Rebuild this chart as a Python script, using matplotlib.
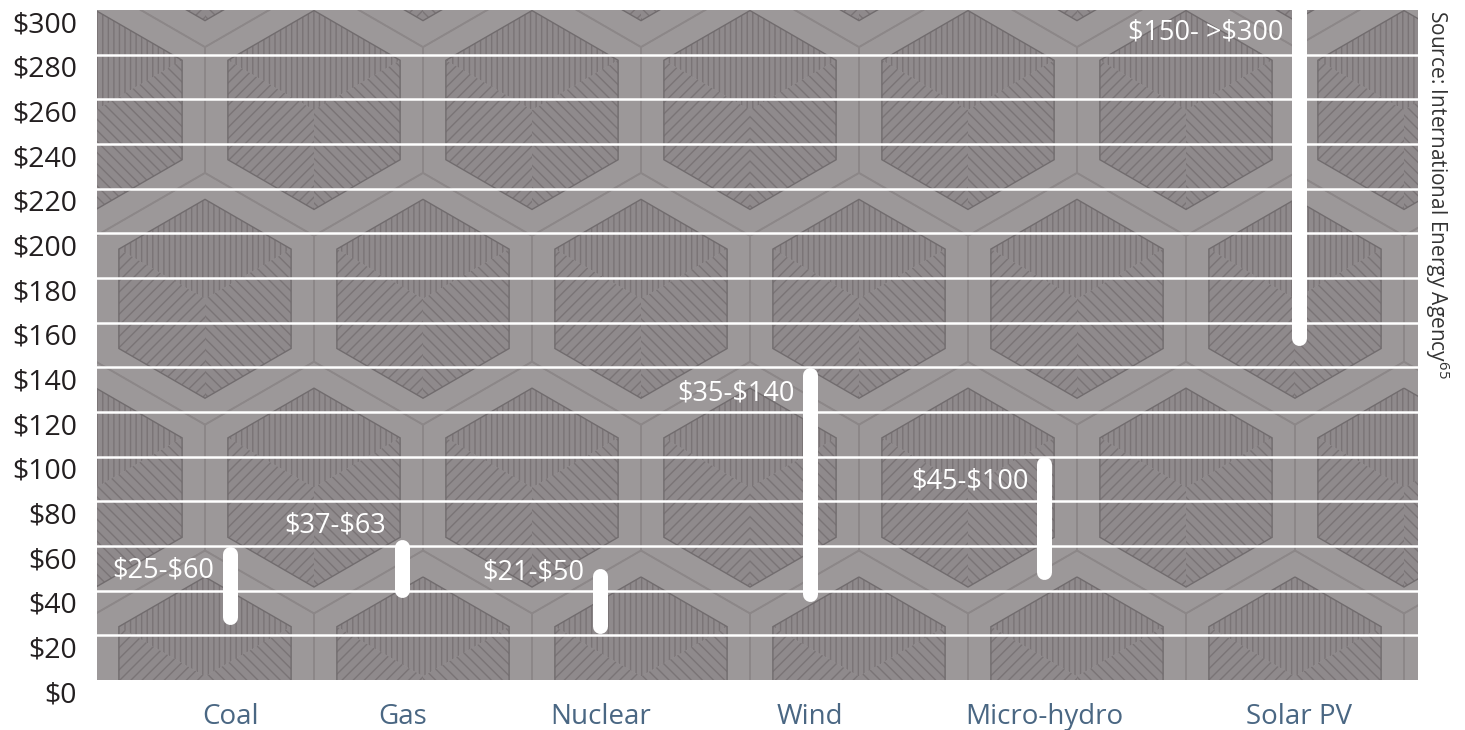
import numpy as np
import matplotlib
matplotlib.use('Agg')
import matplotlib.pyplot as plt
from matplotlib.patches import Polygon, Rectangle

plt.rcParams['font.family'] = ['Open Sans', 'DejaVu Sans']
plt.rcParams['mathtext.fontset'] = 'custom'
plt.rcParams['mathtext.rm'] = 'Open Sans'
plt.rcParams['mathtext.default'] = 'regular'
plt.rcParams['hatch.linewidth'] = 1.0

# levelised cost ranges, $ per MWh
sources = ['Coal', 'Gas', 'Nuclear', 'Wind', 'Micro-hydro', 'Solar PV']
cost_low = [25, 37, 21, 35, 45, 150]
cost_high = [60, 63, 50, 140, 100, 300]
range_labels = [r'\$25-\$60', r'\$37-\$63', r'\$21-\$50', r'\$35-\$140',
                r'\$45-\$100', r'\$150- >\$300']
open_top = [False, False, False, False, False, True]
yticks = np.arange(0, 301, 20)

# layout: slot centres along x (0..10) and label nudges in $ units
xpos = [1.01, 2.31, 3.81, 5.40, 7.17, 9.10]
label_dy = [-11, 6, -2, -11.5, -11, -10]

fig = plt.figure(figsize=(14.65, 7.30), dpi=100)
pos = [97 / 1465, 50 / 730, 1321 / 1465, 670 / 730]

# textured honeycomb backdrop, drawn in pixel units
bg = fig.add_axes(pos, zorder=0)
W, H = 1321, 670
bg.set_xlim(0, W)
bg.set_ylim(H, 0)
bg.axis('off')
frame = Rectangle((0, 0), W, H, fc='#9c9899', ec='none')
bg.add_patch(frame)
w = 218
s = w / np.sqrt(3)
ang = np.radians(90 - 60 * np.arange(6))
unit = np.column_stack([np.cos(ang), -np.sin(ang)])
for r in range(-1, 5):
    cy = 100 + r * 1.5 * s
    off = w / 2 if r % 2 else 0
    for k in range(-2, 8):
        c = np.array([217 + off + k * w, cy])
        p = bg.add_patch(Polygon(c + s * unit, closed=True, fc='none',
                                 ec='#8c8788', lw=1.2))
        p.set_clip_path(frame)
        inner = c + 0.79 * s * unit
        faces = [[inner[5], inner[0], inner[1], c],
                 [c, inner[1], inner[2], inner[3]],
                 [c, inner[3], inner[4], inner[5]]]
        for face, hatch in zip(faces, ['|||', '\\\\\\', '///']):
            p = bg.add_patch(Polygon(face, closed=True, fc='#8f8a8c',
                                     ec='#7a7476', lw=0, hatch=hatch))
            p.set_clip_path(frame)
        p = bg.add_patch(Polygon(inner, closed=True, fc='none', ec='#716c6e', lw=1.0))
        p.set_clip_path(frame)

ax = fig.add_axes(pos, zorder=1)
ax.patch.set_alpha(0)
ax.set_xlim(0, 10)
ax.set_ylim(0, 300)
for sp in ax.spines.values():
    sp.set_visible(False)
ax.set_xticks([])
ax.set_yticks([])

for v in yticks[1:-1]:
    ax.axhline(v, color='white', lw=1.8, zorder=2)

for v in yticks:
    ax.annotate(r'\$%d' % v, xy=(0, v), xycoords=('axes fraction', 'data'),
                xytext=(-20, -15), textcoords='offset pixels',
                ha='right', va='center', fontsize=20.5, color='#231f20',
                annotation_clip=False)

for x, name in zip(xpos, sources):
    ax.annotate(name, xy=(x, 0), xycoords='data', xytext=(0, -37),
                textcoords='offset pixels', ha='center', va='center',
                fontsize=20, color='#4a6783', annotation_clip=False)

# round caps add half the line width at each end
bar_px = 15
px_per_unit = pos[3] * fig.get_figheight() * fig.dpi / 300
cap = bar_px / 2 / px_per_unit
for x, lo, hi, lab, dy, op in zip(xpos, cost_low, cost_high, range_labels,
                                  label_dy, open_top):
    top = 340 if op else hi - cap
    ax.plot([x, x], [lo + cap, top], color='white', lw=bar_px * 72 / 100,
            solid_capstyle='round', zorder=3)
    ax.annotate(lab, xy=(x, hi + dy), xytext=(-16, 0), textcoords='offset pixels',
                ha='right', va='center', fontsize=19.5, color='white', zorder=4)

fig.text(1437 / 1465, 1 - 10 / 730, 'Source: International Energy Agency$^{65}$',
         rotation=-90, ha='center', va='top', fontsize=15, color='#333333')

fig.savefig('out.png', dpi=100)
